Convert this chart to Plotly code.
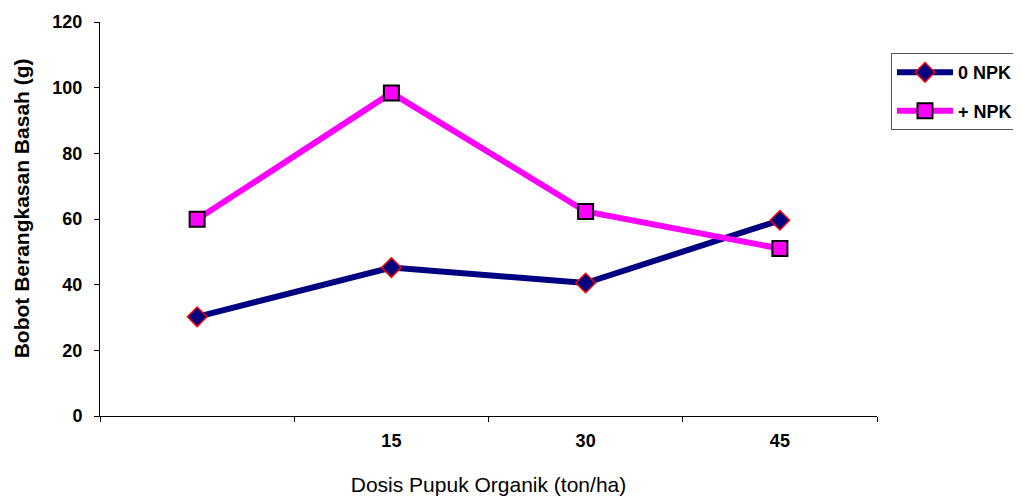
import plotly.graph_objects as go

categories = ["0", "15", "30", "45"]
tick_labels = ["", "<b>15</b>", "<b>30</b>", "<b>45</b>"]
y_ticks = [0, 20, 40, 60, 80, 100, 120]
npk0 = [30.2, 45.2, 40.5, 59.6]
npk_plus = [59.9, 98.4, 62.3, 51.0]

font = "Liberation Sans, Arial, sans-serif"

fig = go.Figure()
fig.add_trace(go.Scatter(
    x=categories, y=npk0, name="<b>0 NPK</b>", mode="lines+markers",
    legendgroup="a",
    line=dict(color="#000080", width=6),
    marker=dict(symbol="diamond", size=15, color="#000080",
                line=dict(color="#FF0000", width=1.5)),
))
fig.add_trace(go.Scatter(
    x=categories, y=npk_plus, name="<b>+ NPK</b>", mode="lines+markers",
    legendgroup="b",
    line=dict(color="#FF00FF", width=6),
    marker=dict(symbol="square", size=15, color="#FF00FF",
                line=dict(color="#000000", width=2)),
))

fig.update_layout(
    width=1021, height=499,
    margin=dict(l=92, r=152, t=14, b=91, autoexpand=False),
    paper_bgcolor="white", plot_bgcolor="white",
    font=dict(family=font, color="black"),
    legend=dict(x=1.018, y=0.921, xanchor="left", yanchor="top",
                bordercolor="#555555", borderwidth=1,
                font=dict(size=18, family=font),
                itemwidth=56, tracegroupgap=12),
    xaxis=dict(
        type="category", categoryorder="array", categoryarray=categories,
        tickmode="array", tickvals=categories, ticktext=tick_labels,
        tickson="boundaries", ticks="outside", ticklen=5, tickcolor="black",
        showline=True, linecolor="black", linewidth=1,
        showgrid=False, zeroline=False, automargin=False,
        range=[-0.5, 3.5], ticklabelstandoff=8,
        tickfont=dict(size=18, family=font),
        title=dict(text="Dosis Pupuk Organik (ton/ha)", font=dict(size=21, family=font), standoff=27),
    ),
    yaxis=dict(
        range=[0, 120], tickmode="array", tickvals=y_ticks,
        ticktext=[f"<b>{v}</b>" for v in y_ticks],
        ticks="outside", ticklen=5, tickcolor="black",
        showline=True, linecolor="black", linewidth=1,
        showgrid=False, zeroline=False, ticklabelstandoff=8, automargin=False,
        tickfont=dict(size=18, family=font),
    ),
    annotations=[dict(
        text="<b>Bobot Berangkasan Basah (g)</b>", textangle=-90,
        xref="paper", yref="paper", x=-0.1017, y=0.527,
        xanchor="center", yanchor="middle", showarrow=False,
        font=dict(size=21, family=font),
    )],
)

fig.write_html("out.html")
